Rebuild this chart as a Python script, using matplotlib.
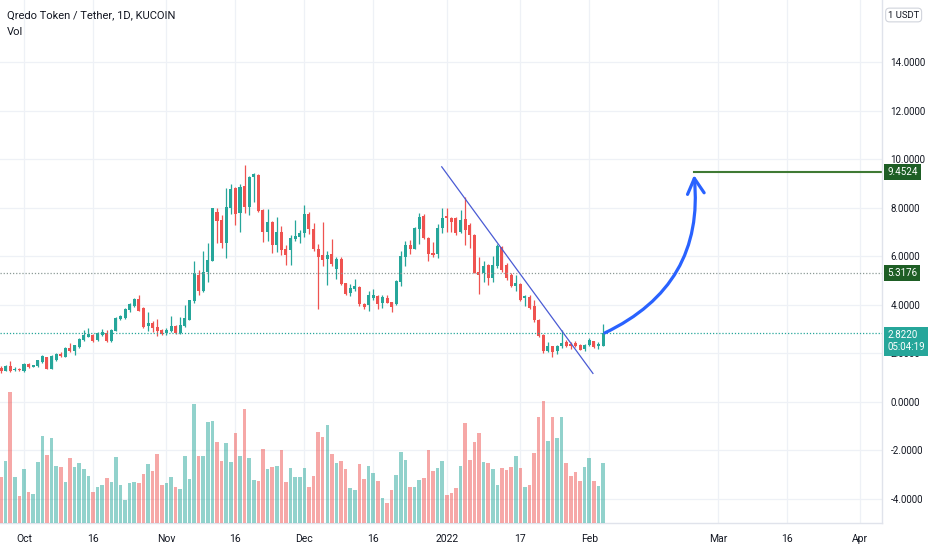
"""Qredo Token / Tether daily candles with volume, TradingView-style recreation."""
import numpy as np
import pandas as pd
import matplotlib
matplotlib.use("Agg")
import matplotlib.pyplot as plt
import matplotlib.dates as mdates
import matplotlib.transforms as mtransforms

# --- data ---
start_date = "2021-09-26"
opens = [1.40, 1.27, 1.47, 1.28, 1.35, 1.25, 1.55, 1.43, 1.45, 1.62,
         1.82, 1.35, 1.73, 1.97, 1.84, 2.22, 2.07, 2.24, 2.52, 2.68,
         2.73, 2.55, 2.74, 2.84, 2.48, 2.92, 3.40, 3.44, 3.78, 3.96,
         4.21, 3.86, 3.12, 3.25, 3.06, 2.96, 2.82, 2.90, 3.10, 2.83,
         3.10, 3.38, 4.13, 5.22, 4.54, 5.36, 5.80, 7.81, 7.49, 6.53,
         8.00, 8.82, 7.77, 8.89, 8.01, 9.25, 9.33, 7.90, 7.01, 7.42,
         6.46, 7.00, 6.27, 6.25, 6.70, 6.78, 6.94, 7.75, 7.13, 6.31,
         6.03, 5.87, 6.08, 5.46, 5.87, 4.87, 4.47, 4.65, 4.74, 4.04,
         3.97, 4.29, 4.36, 4.05, 4.29, 4.10, 4.01, 4.91, 5.98, 6.47,
         6.31, 7.11, 7.66, 6.76, 6.12, 6.08, 7.15, 7.65, 7.56, 7.56,
         7.01, 7.52, 7.28, 6.87, 5.36, 5.29, 5.64, 5.09, 5.57, 6.36,
         5.64, 5.23, 4.77, 4.84, 4.27, 4.33, 3.92, 3.37, 2.76, 2.07,
         2.28, 2.07, 2.30, 2.44, 2.37, 2.41, 2.34, 2.17, 2.34, 2.48,
         2.27, 2.30]
highs = [1.45, 1.50, 1.68, 1.41, 1.40, 1.57, 1.57, 1.52, 1.72, 1.92,
         1.85, 1.90, 2.00, 2.04, 2.24, 2.43, 2.35, 2.62, 2.94, 3.05,
         2.78, 2.88, 3.00, 2.95, 2.98, 3.48, 3.56, 3.86, 4.07, 4.27,
         4.38, 3.90, 3.68, 3.31, 3.40, 3.00, 3.03, 3.51, 3.15, 3.50,
         4.00, 4.20, 5.80, 5.43, 6.19, 6.53, 8.00, 7.97, 7.70, 8.79,
         8.97, 8.85, 8.96, 9.75, 9.30, 9.41, 9.37, 7.93, 7.96, 7.45,
         7.60, 7.22, 6.47, 6.87, 7.49, 7.08, 8.10, 7.82, 7.38, 6.49,
         7.41, 6.21, 6.69, 5.98, 5.98, 4.90, 4.84, 5.07, 4.77, 4.08,
         4.56, 4.66, 4.38, 4.38, 4.38, 4.12, 5.00, 6.21, 6.63, 6.65,
         7.20, 7.79, 7.75, 6.78, 6.56, 7.31, 7.97, 7.97, 7.60, 7.60,
         7.90, 8.45, 7.35, 6.90, 5.98, 5.78, 5.66, 6.00, 6.50, 6.43,
         5.71, 5.30, 5.23, 4.88, 4.40, 4.40, 4.20, 3.40, 2.80, 2.44,
         2.30, 2.34, 2.95, 2.55, 2.44, 2.48, 2.37, 2.39, 2.62, 2.50,
         2.44, 3.20]
lows = [1.18, 1.24, 1.22, 1.25, 1.26, 1.23, 1.40, 1.41, 1.43, 1.60,
        1.33, 1.33, 1.68, 1.84, 1.82, 2.05, 1.90, 2.22, 2.50, 2.65,
        2.45, 2.50, 2.72, 2.45, 2.45, 2.90, 3.38, 3.40, 3.68, 3.90,
        3.73, 3.05, 2.91, 2.85, 2.69, 2.74, 2.76, 2.86, 2.80, 2.80,
        3.08, 3.35, 4.05, 4.40, 4.50, 4.94, 5.78, 6.53, 6.32, 5.91,
        7.74, 7.28, 7.00, 7.77, 7.70, 8.24, 7.83, 6.56, 6.60, 6.12,
        6.18, 6.05, 5.65, 5.62, 6.60, 6.53, 6.78, 6.90, 6.21, 3.81,
        5.57, 4.80, 5.57, 5.04, 4.80, 4.38, 4.36, 4.56, 3.92, 3.81,
        3.72, 4.18, 3.83, 3.87, 4.05, 3.70, 3.99, 4.77, 5.60, 6.10,
        6.28, 6.49, 6.69, 5.80, 5.98, 5.90, 6.94, 7.00, 7.00, 6.87,
        6.94, 6.46, 6.32, 5.29, 4.44, 4.92, 4.81, 4.92, 5.50, 5.36,
        5.02, 4.72, 4.54, 4.13, 3.92, 3.83, 3.30, 2.66, 2.00, 2.03,
        1.84, 1.97, 2.20, 2.24, 2.17, 2.24, 2.11, 2.07, 2.27, 2.20,
        2.17, 2.27]
closes = [1.25, 1.48, 1.26, 1.35, 1.28, 1.55, 1.42, 1.50, 1.70, 1.86,
          1.35, 1.87, 1.96, 1.86, 2.21, 2.07, 2.32, 2.56, 2.74, 2.78,
          2.48, 2.84, 2.88, 2.48, 2.95, 3.44, 3.51, 3.82, 4.03, 4.24,
          3.75, 3.09, 3.23, 3.03, 2.89, 2.80, 2.96, 3.10, 2.83, 3.14,
          3.44, 4.17, 5.30, 4.54, 5.36, 5.84, 7.97, 7.46, 6.53, 8.01,
          8.75, 7.74, 8.86, 8.01, 9.25, 9.38, 7.86, 7.01, 7.42, 6.46,
          7.00, 6.25, 6.05, 6.73, 6.83, 6.94, 7.75, 7.11, 6.28, 5.94,
          5.84, 6.03, 5.66, 5.87, 4.84, 4.43, 4.67, 4.77, 4.01, 3.90,
          4.38, 4.40, 4.01, 4.33, 4.08, 3.88, 4.98, 6.01, 6.45, 6.30,
          7.17, 7.63, 6.74, 6.08, 6.03, 7.17, 7.58, 7.56, 7.42, 6.94,
          7.49, 7.08, 6.87, 5.32, 5.23, 5.57, 5.09, 5.64, 6.43, 5.43,
          5.09, 4.75, 4.88, 4.20, 4.36, 3.85, 3.37, 2.69, 2.07, 2.28,
          2.03, 2.30, 2.41, 2.30, 2.30, 2.30, 2.14, 2.34, 2.52, 2.25,
          2.37, 2.822]
volumes = [137, 187, 392, 138, 80, 162, 93, 88, 183, 262,
           205, 254, 171, 169, 123, 194, 168, 180, 162, 142,
           94, 109, 114, 134, 123, 197, 114, 69, 120, 123,
           120, 148, 178, 157, 208, 114, 120, 137, 108, 103,
           202, 132, 358, 200, 201, 303, 306, 243, 186, 240,
           184, 269, 202, 342, 194, 130, 126, 222, 163, 168,
           172, 219, 123, 166, 137, 139, 166, 109, 140, 274,
           258, 295, 206, 180, 187, 163, 106, 100, 178, 132,
           172, 149, 126, 74, 60, 100, 143, 212, 190, 109,
           109, 130, 134, 218, 155, 166, 187, 83, 91, 106,
           172, 299, 190, 244, 269, 184, 181, 163, 115, 166,
           158, 169, 202, 166, 107, 114, 209, 317, 366, 247,
           317, 255, 317, 181, 141, 154, 127, 169, 194, 127,
           112, 181]

tick_dates = ["2021-10-01", "2021-10-16", "2021-11-01", "2021-11-16", "2021-12-01",
              "2021-12-16", "2022-01-01", "2022-01-17", "2022-02-01", "2022-03-01",
              "2022-03-16", "2022-04-01"]
tick_labels = ["Oct", "16", "Nov", "16", "Dec", "16", "2022", "17", "Feb", "Mar", "16", "Apr"]
price_ticks = [-4, -2, 0, 2, 4, 6, 8, 10, 12, 14]

# drawings on the chart (days after 2021-10-01, price)
trend_days = [90.9, 123.8]
trend_prices = [9.68, 1.16]
arrow_days = [126.4, 145.8]
arrow_prices = [2.83, 9.34]
target_day = 145.9
target_price = 9.4524
level_price = 5.3176
last_price = 2.8220
countdown = "05:04:19"

UP, DOWN = "#26a69a", "#ef5350"
GRID = "#eef1f6"
plt.rcParams["font.family"] = ["Roboto", "DejaVu Sans"]

o, h, l, c = map(np.array, (opens, highs, lows, closes))
dates = pd.date_range(start_date, periods=len(closes), freq="D")
x = mdates.date2num(dates.to_pydatetime())
d0 = mdates.date2num(pd.Timestamp("2021-10-01").to_pydatetime())
up = c >= o
cols = np.where(up, UP, DOWN)

fig = plt.figure(figsize=(9.32, 5.5), dpi=100)
ax = fig.add_axes([0, 27 / 550, 882 / 932, 523 / 550])
vax = ax.twinx()
# price axis (grid, candles) below, volume overlay above it
ax.set_zorder(1)
vax.set_zorder(2)
vax.patch.set_visible(False)

# volume
vax.bar(x, volumes, width=0.78, color=cols, alpha=0.5, linewidth=0)
vax.set_ylim(0, 1569)
vax.set_yticks([])
for s in vax.spines.values():
    s.set_visible(False)

# candles
ax.vlines(x, l, h, colors=cols, lw=0.9)
body = np.maximum(np.abs(c - o), 0.04)
ax.bar(x, body, bottom=np.minimum(o, c), width=0.66, color=cols, linewidth=0)

ax.set_xlim(d0 - 5.22, d0 + 186.7)
ax.set_ylim(-5.01, 16.56)

# axes / grid
ax.yaxis.tick_right()
ax.set_yticks(price_ticks)
ax.set_yticklabels([f"{v:.4f}" for v in price_ticks], fontsize=7, color="#131722")
ax.set_xticks([mdates.date2num(pd.Timestamp(t).to_pydatetime()) for t in tick_dates])
ax.set_xticklabels(tick_labels, fontsize=7.5, color="#131722")
ax.tick_params(axis="both", length=0)
ax.tick_params(axis="y", pad=6)
ax.tick_params(axis="x", pad=8)
ax.set_axisbelow(True)
ax.grid(True, color=GRID, lw=0.9)
for side in ("top", "left"):
    ax.spines[side].set_visible(False)
for side in ("right", "bottom"):
    ax.spines[side].set_color("#e0e3eb")
    ax.spines[side].set_linewidth(1)

# horizontal levels
ax.axhline(level_price, color="#8c9a96", lw=0.9, ls=(0, (1, 1.5)))
ax.axhline(last_price, color=UP, lw=0.9, ls=(0, (1, 1.5)))
ax.plot([d0 + target_day, ax.get_xlim()[1]], [target_price] * 2, color="#3f7a34", lw=1.5)

# trend line
ax.plot(d0 + np.array(trend_days), trend_prices, color="#4a5bd4", lw=0.9)

# projection arrow
ax.annotate("", xy=(d0 + arrow_days[1], arrow_prices[1]),
            xytext=(d0 + arrow_days[0], arrow_prices[0]),
            arrowprops=dict(arrowstyle="->,head_length=0.55,head_width=0.3",
                            connectionstyle="arc3,rad=0.35", color="#2962ff",
                            lw=2.3, mutation_scale=20, shrinkA=0, shrinkB=0))

# price scale labels
tr = mtransforms.blended_transform_factory(ax.transAxes, ax.transData)
for val, bg in ((target_price, "#1e5e25"), (level_price, "#1e5e25")):
    ax.text(1.006, val, f"{val:.4f}", transform=tr, fontsize=7, color="white",
            va="center", ha="left", clip_on=False, zorder=5,
            bbox=dict(boxstyle="square,pad=0.3", fc=bg, ec="none"))
ax.text(1.006, last_price - 0.33, f"{last_price:.4f}\n{countdown}", transform=tr,
        fontsize=7, color="white", va="center", ha="left", clip_on=False, zorder=5,
        linespacing=1.25, bbox=dict(boxstyle="square,pad=0.35", fc=UP, ec="none"))

fig.text(888 / 932, 1 - 15 / 550, "1 USDT", fontsize=6.8, color="#131722", va="center",
         bbox=dict(boxstyle="round,pad=0.25,rounding_size=0.4", fc="white", ec="#d1d4dc", lw=0.8))

# header
fig.text(7 / 932, 1 - 15 / 550, "Qredo Token / Tether, 1D, KUCOIN", fontsize=8,
         color="#131722", va="center")
fig.text(7 / 932, 1 - 32 / 550, "Vol", fontsize=8, color="#131722", va="center")

fig.savefig("out.png", dpi=100)
